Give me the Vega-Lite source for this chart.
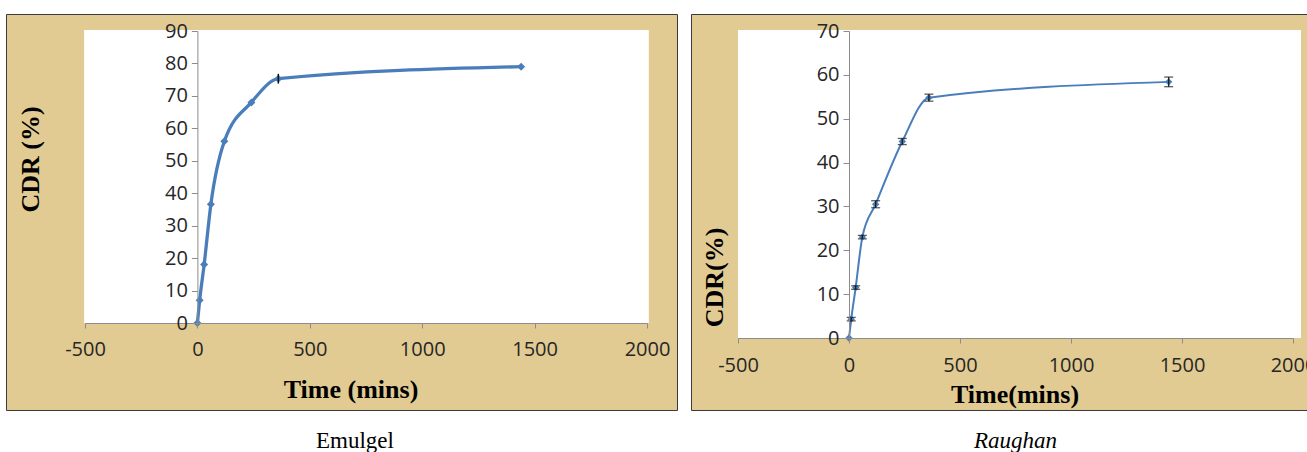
{
  "$schema": "https://vega.github.io/schema/vega-lite/v6.json",
  "background": "white",
  "padding": {"left": 5, "top": 13, "right": -6, "bottom": 0},
  "autosize": {"type": "pad"},
  "spacing": 91,
  "bounds": "flush",
  "config": {
    "view": {"stroke": null},
    "axis": {
      "grid": false,
      "domainColor": "#8c8c8c",
      "tickColor": "#8c8c8c",
      "labelFont": "Open Sans",
      "labelFontSize": 20,
      "labelColor": "#262626",
      "labelOverlap": false,
      "labelExpr": "'' + datum.value",
      "titleFont": "Liberation Serif",
      "titleFontSize": 26,
      "titleFontWeight": "bold",
      "titleColor": "#000000"
    },
    "title": {
      "font": "Liberation Serif",
      "fontSize": 23,
      "fontWeight": "normal",
      "color": "#000000",
      "orient": "bottom",
      "baseline": "alphabetic",
      "anchor": "middle",
      "offset": 19
    }
  },
  "datasets": {
    "emulgel": [
      {"time": 0, "cdr": 0, "err": 0},
      {"time": 10, "cdr": 7.0, "err": 0},
      {"time": 30, "cdr": 18.0, "err": 0},
      {"time": 60, "cdr": 36.6, "err": 0},
      {"time": 120, "cdr": 56.0, "err": 0},
      {"time": 240, "cdr": 68.0, "err": 0},
      {"time": 360, "cdr": 75.3, "err": 1.5},
      {"time": 1440, "cdr": 79.0, "err": 0}
    ],
    "raughan": [
      {"time": 0, "cdr": 0, "err": 0},
      {"time": 10, "cdr": 4.3, "err": 0.4},
      {"time": 30, "cdr": 11.5, "err": 0.4},
      {"time": 60, "cdr": 23.0, "err": 0.4},
      {"time": 120, "cdr": 30.5, "err": 0.8},
      {"time": 240, "cdr": 44.8, "err": 0.7},
      {"time": 360, "cdr": 54.8, "err": 0.8},
      {"time": 1440, "cdr": 58.4, "err": 1.1}
    ]
  },
  "hconcat": [
    {
      "width": 562,
      "height": 292,
      "title": {"text": "Emulgel", "dx": -11},
      "data": {"name": "emulgel"},
      "layer": [
        {
          "data": {"values": [{}]},
          "mark": {"type": "rect", "fill": "#E1CB92", "stroke": "#3a3a3a", "strokeWidth": 1},
          "encoding": {
            "x": {"datum": -849.2, "type": "quantitative", "title": "Time (mins)", "scale": {"domain": [-500, 2000], "nice": false},
              "axis": {"zindex": 1, "title": "Time (mins)", "values": [-500, 0, 500, 1000, 1500, 2000], "labelFlush": false, "tickSize": 5, "labelPadding": 11.5, "titleX": 265.5, "titleY": 74.5, "titleAlign": "center", "titleBaseline": "alphabetic", "titleAngle": 0}},
            "x2": {"datum": 2135.7},
            "y": {"datum": 95.09, "type": "quantitative", "title": "CDR (%)", "scale": {"domain": [0, 90], "nice": false},
              "axis": {"zindex": 1, "title": "CDR (%)", "values": [0, 10, 20, 30, 40, 50, 60, 70, 80, 90], "offset": -112.4, "tickSize": 6, "labelPadding": 4, "titleX": -159, "titleY": 128, "titleAlign": "center", "titleBaseline": "alphabetic", "titleAngle": 270}},
            "y2": {"datum": -26.97}
          }
        },
        {
          "data": {"values": [{}]},
          "mark": {"type": "rect", "fill": "#ffffff"},
          "encoding": {
            "x": {"datum": -504, "type": "quantitative", "title": "Time (mins)", "scale": {"domain": [-500, 2000], "nice": false},
              "axis": {"zindex": 1, "title": "Time (mins)", "values": [-500, 0, 500, 1000, 1500, 2000], "labelFlush": false, "tickSize": 5, "labelPadding": 11.5, "titleX": 265.5, "titleY": 74.5, "titleAlign": "center", "titleBaseline": "alphabetic", "titleAngle": 0}},
            "x2": {"datum": 2008},
            "y": {"datum": 90.3, "type": "quantitative", "title": "CDR (%)", "scale": {"domain": [0, 90], "nice": false},
              "axis": {"zindex": 1, "title": "CDR (%)", "values": [0, 10, 20, 30, 40, 50, 60, 70, 80, 90], "offset": -112.4, "tickSize": 6, "labelPadding": 4, "titleX": -159, "titleY": 128, "titleAlign": "center", "titleBaseline": "alphabetic", "titleAngle": 270}},
            "y2": {"datum": 0}
          }
        },
        {
          "mark": {"type": "line", "interpolate": "monotone", "color": "#4A7EBB", "strokeWidth": 3.3},
          "encoding": {
            "x": {"field": "time", "type": "quantitative", "title": "Time (mins)", "scale": {"domain": [-500, 2000], "nice": false},
              "axis": {"zindex": 1, "title": "Time (mins)", "values": [-500, 0, 500, 1000, 1500, 2000], "labelFlush": false, "tickSize": 5, "labelPadding": 11.5, "titleX": 265.5, "titleY": 74.5, "titleAlign": "center", "titleBaseline": "alphabetic", "titleAngle": 0}},
            "y": {"field": "cdr", "type": "quantitative", "title": "CDR (%)", "scale": {"domain": [0, 90], "nice": false},
              "axis": {"zindex": 1, "title": "CDR (%)", "values": [0, 10, 20, 30, 40, 50, 60, 70, 80, 90], "offset": -112.4, "tickSize": 6, "labelPadding": 4, "titleX": -159, "titleY": 128, "titleAlign": "center", "titleBaseline": "alphabetic", "titleAngle": 270}}
          }
        },
        {
          "mark": {"type": "point", "shape": "diamond", "filled": true, "size": 64, "color": "#4A7EBB", "opacity": 1},
          "encoding": {
            "x": {"field": "time", "type": "quantitative", "title": "Time (mins)", "scale": {"domain": [-500, 2000], "nice": false},
              "axis": {"zindex": 1, "title": "Time (mins)", "values": [-500, 0, 500, 1000, 1500, 2000], "labelFlush": false, "tickSize": 5, "labelPadding": 11.5, "titleX": 265.5, "titleY": 74.5, "titleAlign": "center", "titleBaseline": "alphabetic", "titleAngle": 0}},
            "y": {"field": "cdr", "type": "quantitative", "title": "CDR (%)", "scale": {"domain": [0, 90], "nice": false},
              "axis": {"zindex": 1, "title": "CDR (%)", "values": [0, 10, 20, 30, 40, 50, 60, 70, 80, 90], "offset": -112.4, "tickSize": 6, "labelPadding": 4, "titleX": -159, "titleY": 128, "titleAlign": "center", "titleBaseline": "alphabetic", "titleAngle": 270}}
          }
        },
        {
          "transform": [{"filter": "datum.err > 0"}],
          "mark": {"type": "errorbar", "ticks": false, "rule": {"color": "#111111", "strokeWidth": 1.5}},
          "encoding": {
            "x": {"field": "time", "type": "quantitative", "title": "Time (mins)", "scale": {"domain": [-500, 2000], "nice": false},
              "axis": {"zindex": 1, "title": "Time (mins)", "values": [-500, 0, 500, 1000, 1500, 2000], "labelFlush": false, "tickSize": 5, "labelPadding": 11.5, "titleX": 265.5, "titleY": 74.5, "titleAlign": "center", "titleBaseline": "alphabetic", "titleAngle": 0}},
            "y": {"field": "cdr", "type": "quantitative", "title": "CDR (%)", "scale": {"domain": [0, 90], "nice": false},
              "axis": {"zindex": 1, "title": "CDR (%)", "values": [0, 10, 20, 30, 40, 50, 60, 70, 80, 90], "offset": -112.4, "tickSize": 6, "labelPadding": 4, "titleX": -159, "titleY": 128, "titleAlign": "center", "titleBaseline": "alphabetic", "titleAngle": 270}},
            "yError": {"field": "err"}
          }
        }
      ]
    },
    {
      "width": 555,
      "height": 307,
      "title": {"text": "Raughan", "fontStyle": "italic", "dx": 0},
      "data": {"name": "raughan"},
      "layer": [
        {
          "data": {"values": [{}]},
          "mark": {"type": "rect", "fill": "#E1CB92", "stroke": "#3a3a3a", "strokeWidth": 1},
          "encoding": {
            "x": {"datum": -709.5, "type": "quantitative", "title": "Time(mins)", "scale": {"domain": [-500, 2000], "nice": false},
              "axis": {"zindex": 1, "title": "Time(mins)", "values": [-500, 0, 500, 1000, 1500, 2000], "labelFlush": false, "tickSize": 5, "labelPadding": 12.5, "titleX": 276.5, "titleY": 64.5, "titleAlign": "center", "titleBaseline": "alphabetic", "titleAngle": 0}},
            "x2": {"datum": 2081},
            "y": {"datum": 73.76, "type": "quantitative", "title": "CDR(%)", "scale": {"domain": [0, 70], "nice": false},
              "axis": {"zindex": 1, "title": "CDR(%)", "values": [0, 10, 20, 30, 40, 50, 60, 70], "offset": -111, "tickSize": 6, "labelPadding": 4, "titleX": -126.5, "titleY": 246, "titleAlign": "center", "titleBaseline": "alphabetic", "titleAngle": 270}},
            "y2": {"datum": -16.53}
          }
        },
        {
          "data": {"values": [{}]},
          "mark": {"type": "rect", "fill": "#ffffff"},
          "encoding": {
            "x": {"datum": -500, "type": "quantitative", "title": "Time(mins)", "scale": {"domain": [-500, 2000], "nice": false},
              "axis": {"zindex": 1, "title": "Time(mins)", "values": [-500, 0, 500, 1000, 1500, 2000], "labelFlush": false, "tickSize": 5, "labelPadding": 12.5, "titleX": 276.5, "titleY": 64.5, "titleAlign": "center", "titleBaseline": "alphabetic", "titleAngle": 0}},
            "x2": {"datum": 2036},
            "y": {"datum": 70.2, "type": "quantitative", "title": "CDR(%)", "scale": {"domain": [0, 70], "nice": false},
              "axis": {"zindex": 1, "title": "CDR(%)", "values": [0, 10, 20, 30, 40, 50, 60, 70], "offset": -111, "tickSize": 6, "labelPadding": 4, "titleX": -126.5, "titleY": 246, "titleAlign": "center", "titleBaseline": "alphabetic", "titleAngle": 270}},
            "y2": {"datum": 0}
          }
        },
        {
          "mark": {"type": "line", "interpolate": "monotone", "color": "#4A7EBB", "strokeWidth": 2},
          "encoding": {
            "x": {"field": "time", "type": "quantitative", "title": "Time(mins)", "scale": {"domain": [-500, 2000], "nice": false},
              "axis": {"zindex": 1, "title": "Time(mins)", "values": [-500, 0, 500, 1000, 1500, 2000], "labelFlush": false, "tickSize": 5, "labelPadding": 12.5, "titleX": 276.5, "titleY": 64.5, "titleAlign": "center", "titleBaseline": "alphabetic", "titleAngle": 0}},
            "y": {"field": "cdr", "type": "quantitative", "title": "CDR(%)", "scale": {"domain": [0, 70], "nice": false},
              "axis": {"zindex": 1, "title": "CDR(%)", "values": [0, 10, 20, 30, 40, 50, 60, 70], "offset": -111, "tickSize": 6, "labelPadding": 4, "titleX": -126.5, "titleY": 246, "titleAlign": "center", "titleBaseline": "alphabetic", "titleAngle": 270}}
          }
        },
        {
          "mark": {"type": "point", "shape": "diamond", "filled": true, "size": 55, "color": "#4A7EBB", "opacity": 1},
          "encoding": {
            "x": {"field": "time", "type": "quantitative", "title": "Time(mins)", "scale": {"domain": [-500, 2000], "nice": false},
              "axis": {"zindex": 1, "title": "Time(mins)", "values": [-500, 0, 500, 1000, 1500, 2000], "labelFlush": false, "tickSize": 5, "labelPadding": 12.5, "titleX": 276.5, "titleY": 64.5, "titleAlign": "center", "titleBaseline": "alphabetic", "titleAngle": 0}},
            "y": {"field": "cdr", "type": "quantitative", "title": "CDR(%)", "scale": {"domain": [0, 70], "nice": false},
              "axis": {"zindex": 1, "title": "CDR(%)", "values": [0, 10, 20, 30, 40, 50, 60, 70], "offset": -111, "tickSize": 6, "labelPadding": 4, "titleX": -126.5, "titleY": 246, "titleAlign": "center", "titleBaseline": "alphabetic", "titleAngle": 270}}
          }
        },
        {
          "transform": [{"filter": "datum.err > 0"}],
          "mark": {"type": "errorbar", "size": 9, "thickness": 1.3, "ticks": {"color": "#1a1a1a"}, "rule": {"color": "#1a1a1a"}},
          "encoding": {
            "x": {"field": "time", "type": "quantitative", "title": "Time(mins)", "scale": {"domain": [-500, 2000], "nice": false},
              "axis": {"zindex": 1, "title": "Time(mins)", "values": [-500, 0, 500, 1000, 1500, 2000], "labelFlush": false, "tickSize": 5, "labelPadding": 12.5, "titleX": 276.5, "titleY": 64.5, "titleAlign": "center", "titleBaseline": "alphabetic", "titleAngle": 0}},
            "y": {"field": "cdr", "type": "quantitative", "title": "CDR(%)", "scale": {"domain": [0, 70], "nice": false},
              "axis": {"zindex": 1, "title": "CDR(%)", "values": [0, 10, 20, 30, 40, 50, 60, 70], "offset": -111, "tickSize": 6, "labelPadding": 4, "titleX": -126.5, "titleY": 246, "titleAlign": "center", "titleBaseline": "alphabetic", "titleAngle": 270}},
            "yError": {"field": "err"}
          }
        }
      ]
    }
  ]
}
